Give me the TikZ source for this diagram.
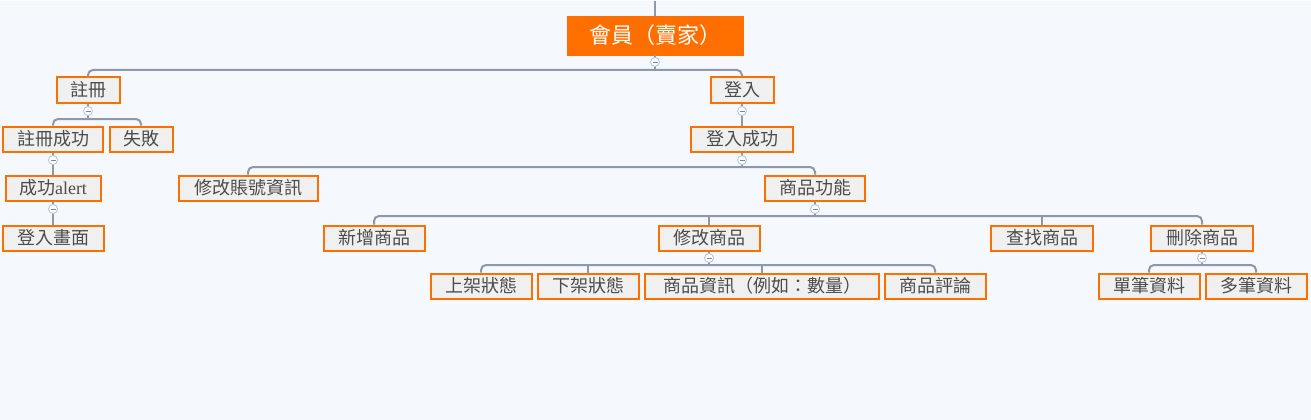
\documentclass[tikz,border=0pt]{standalone}
\usepackage{fontspec}
\newfontfamily\cjk{Noto Sans CJK TC}
\newfontfamily\latinserif{Liberation Serif}
\definecolor{bgblue}{HTML}{F5F9FD}
\definecolor{mindorange}{HTML}{FF6F00}
\definecolor{linegray}{HTML}{8E98A9}
\definecolor{boxgray}{HTML}{F0F0F0}
\definecolor{foldblue}{HTML}{AFC3E2}
\tikzstyle{rootbox} = [fill=mindorange, draw=mindorange, text=white,
    minimum width=176pt, minimum height=39pt, inner sep=0pt,
    font=\cjk\fontsize{22}{25}\selectfont]
\tikzstyle{topicbox} = [draw=mindorange, fill=boxgray, line width=2pt, text=black!70,
    minimum height=25pt, inner xsep=2pt, inner ysep=0pt,
    font=\cjk\fontsize{18}{21}\selectfont]
\tikzstyle{link} = [draw=linegray, line width=2pt, rounded corners=5pt]
\tikzstyle{fold} = [circle, draw=foldblue, fill=white, line width=0.8pt,
    minimum size=9pt, inner sep=0pt,
    path picture={\draw[foldblue!70!black, line width=0.8pt]
        ([xshift=-2.5pt]path picture bounding box.center) -- ([xshift=2.5pt]path picture bounding box.center);}]
\begin{document}
\begin{tikzpicture}[x=1pt, y=-1pt]
    \fill[bgblue] (0,0) rectangle (1311,419);
    \node[rootbox] (mem) at (655,34.5) {會員（賣家）};
    \node[topicbox, minimum width=63pt] (reg) at (88,89) {註冊};
    \node[topicbox, minimum width=63pt] (login) at (742,89) {登入};
    \node[topicbox, minimum width=100pt] (regok) at (53,138) {註冊成功};
    \node[topicbox, minimum width=63pt] (regfail) at (141,138) {失敗};
    \node[topicbox, minimum width=95pt] (alert) at (53,187) {成功{\latinserif alert}};
    \node[topicbox, minimum width=101pt] (loginpage) at (53,237) {登入畫面};
    \node[topicbox, minimum width=102pt] (loginok) at (742,138) {登入成功};
    \node[topicbox, minimum width=139pt] (account) at (248,187) {修改賬號資訊};
    \node[topicbox, minimum width=100pt] (goods) at (815,187) {商品功能};
    \node[topicbox, minimum width=101pt] (addgoods) at (374,237) {新增商品};
    \node[topicbox, minimum width=101pt] (editgoods) at (709,237) {修改商品};
    \node[topicbox, minimum width=102pt] (findgoods) at (1042,237) {查找商品};
    \node[topicbox, minimum width=102pt] (delgoods) at (1202,237) {刪除商品};
    \node[topicbox, minimum width=101pt] (onshelf) at (481,285) {上架狀態};
    \node[topicbox, minimum width=101pt] (offshelf) at (588,285) {下架狀態};
    \node[topicbox, minimum width=234pt] (info) at (762,285) {商品資訊（例如：數量）};
    \node[topicbox, minimum width=101pt] (review) at (935,285) {商品評論};
    \node[topicbox, minimum width=101pt] (single) at (1149,285) {單筆資料};
    \node[topicbox, minimum width=101pt] (multi) at (1256,285) {多筆資料};

    \coordinate (top) at (655,0);
    \coordinate (memb) at (655,69);
    \coordinate (regb) at (88,118);
    \coordinate (loginokb) at (742,166);
    \coordinate (goodsb) at (815,215);
    \coordinate (editb) at (709,264);
    \coordinate (delb) at (1202,264);

    \draw[link] (top) -- (mem);
    \draw[link] (mem) -- (memb);
    \draw[link] (reg) |- (memb) -| (login);
    \draw[link] (reg) -- (regb);
    \draw[link] (regok) |- (regb) -| (regfail);
    \draw[link] (regok) -- (alert);
    \draw[link] (alert) -- (loginpage);
    \draw[link] (login) -- (loginok);
    \draw[link] (loginok) -- (loginokb);
    \draw[link] (account) |- (loginokb) -| (goods);
    \draw[link] (goods) -- (goodsb);
    \draw[link] (addgoods) |- (goodsb) -| (delgoods);
    \draw[link] (editgoods) -- (editgoods |- goodsb);
    \draw[link] (findgoods) -- (findgoods |- goodsb);
    \draw[link] (editgoods) -- (editb);
    \draw[link] (onshelf) |- (editb) -| (review);
    \draw[link] (offshelf) -- (offshelf |- editb);
    \draw[link] (info) -- (info |- editb);
    \draw[link] (delgoods) -- (delb);
    \draw[link] (single) |- (delb) -| (multi);

    \node[fold] (memf) at (655,61) {};
    \node[fold] (regf) at (88,110) {};
    \node[fold] (regokf) at (53,159) {};
    \node[fold] (alertf) at (53,208) {};
    \node[fold] (loginf) at (742,110) {};
    \node[fold] (loginokf) at (742,159) {};
    \node[fold] (goodsf) at (815,208) {};
    \node[fold] (editf) at (709,257) {};
    \node[fold] (delf) at (1202,257) {};
\end{tikzpicture}
\end{document}
